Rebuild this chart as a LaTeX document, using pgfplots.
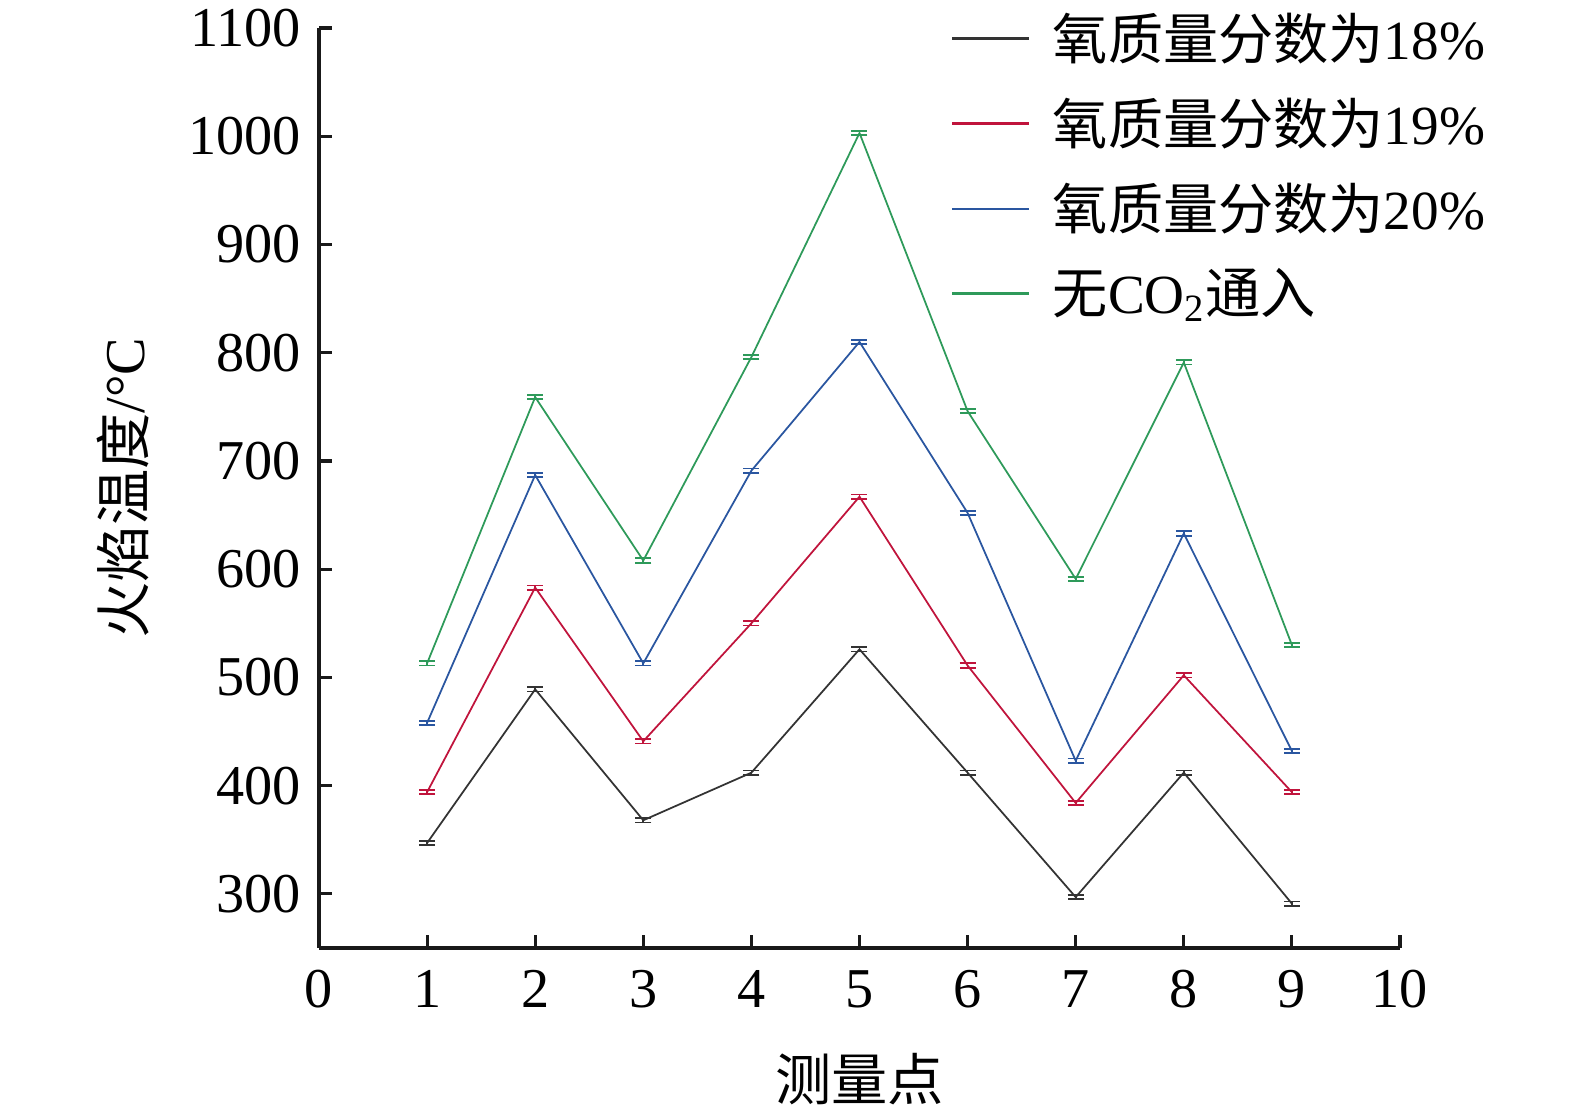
\documentclass[border=0pt]{standalone}
\usepackage{pgfplots}
\pgfplotsset{compat=1.18}
\usepackage{fontspec}
\setmainfont{Liberation Serif}
\newfontfamily\cjk{Noto Sans CJK SC}
\definecolor{cblack}{HTML}{333333}
\definecolor{cred}{HTML}{C0143C}
\definecolor{cblue}{HTML}{2A56A0}
\definecolor{cgreen}{HTML}{2E9A5A}
\begin{document}
\begin{tikzpicture}
\useasboundingbox (-31.9mm,-16.0mm) rectangle (125.6mm,94.8mm);
\begin{axis}[
  scale only axis,
  width=108.1mm, height=92.0mm,
  xmin=0, xmax=10, ymin=250, ymax=1100,
  xtick={0,1,...,10}, ytick={300,400,...,1100},
  axis lines*=left,
  axis line style={line width=0.9pt, color=black!90},
  tick style={line width=0.9pt, color=black!90},
  tick align=inside,
  major tick length=1.3mm,
  tick label style={font=\fontsize{16}{18}\selectfont},
  xticklabel style={yshift=-1.0mm},
  yticklabel style={xshift=-0.6mm},
  /pgf/number format/assume math mode=true,
  /pgf/number format/1000 sep={},
  xlabel={\cjk 测量点},
  ylabel={{\cjk 火焰温度}/\textdegree C},
  xlabel style={font=\fontsize{16}{18}\selectfont, at={(axis description cs:0.5,0)}, anchor=north, yshift=-9.3mm},
  ylabel style={font=\fontsize{16}{18}\selectfont, at={(axis description cs:0,0.5)}, anchor=south, yshift=15.8mm},
  legend style={draw=none, fill=none, at={(rel axis cs:0.584,1.025)}, anchor=north west,
    font=\fontsize{15.7}{18}\selectfont, row sep=1.95mm, inner sep=0pt},
  legend cell align=left,
  legend image code/.code={\draw[#1, line width=0.8pt] (0mm,0mm) -- (7.7mm,0mm);},
  every axis plot/.append style={line width=0.5pt, mark=none,
    error bars/y dir=both, error bars/y explicit,
    error bars/error bar style={line width=0.5pt},
    error bars/error mark options={rotate=90, mark size=0.8mm, line width=0.5pt}},
]
\addplot[cblack] coordinates {
 (1,347) +- (0,2) (2,489) +- (0,2) (3,368) +- (0,2) (4,412) +- (0,2) (5,526) +- (0,2)
 (6,412) +- (0,2) (7,297) +- (0,2) (8,412) +- (0,2) (9,291) +- (0,2)};
\addlegendentry{\hspace*{1.5mm}{\cjk 氧质量分数为}18\%}
\addplot[cred] coordinates {
 (1,394) +- (0,2) (2,583) +- (0,2) (3,441) +- (0,2) (4,550) +- (0,2) (5,667) +- (0,2)
 (6,511) +- (0,2) (7,384) +- (0,2) (8,502) +- (0,2) (9,394) +- (0,2)};
\addlegendentry{\hspace*{1.5mm}{\cjk 氧质量分数为}19\%}
\addplot[cblue] coordinates {
 (1,458) +- (0,2) (2,687) +- (0,2) (3,513) +- (0,2) (4,691) +- (0,2) (5,810) +- (0,2)
 (6,652) +- (0,2) (7,423) +- (0,2) (8,633) +- (0,2) (9,432) +- (0,2)};
\addlegendentry{\hspace*{1.5mm}{\cjk 氧质量分数为}20\%}
\addplot[cgreen] coordinates {
 (1,513) +- (0,2) (2,759) +- (0,2) (3,608) +- (0,2) (4,796) +- (0,2) (5,1003) +- (0,2)
 (6,746) +- (0,2) (7,591) +- (0,2) (8,791) +- (0,2) (9,530) +- (0,2)};
\addlegendentry{\hspace*{1.5mm}{\cjk 无}CO\textsubscript{2}{\cjk 通入}}
\end{axis}
\end{tikzpicture}
\end{document}
